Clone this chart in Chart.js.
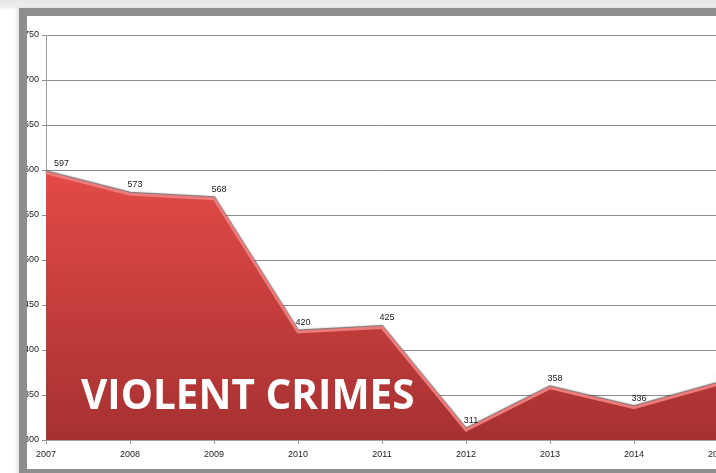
<!DOCTYPE html>
<html>
<head>
<meta charset="utf-8">
<script src="https://cdn.jsdelivr.net/npm/chart.js@4"></script>
<style>
  html, body { margin: 0; padding: 0; }
  body {
    width: 716px; height: 473px; overflow: hidden; position: relative;
    background: linear-gradient(#e6e6e6 0px, #f0f0f0 8px, #ffffff 9px);
  }
  #frame {
    position: absolute; left: 19px; top: 8px;
    width: 820px; height: 453px;
    border: 8px solid #8e8e8e;
    background: #fff; overflow: hidden;
    box-shadow: -2px 0 3px rgba(0,0,0,0.12);
  }
  #wrap { position: absolute; left: -8px; top: 0; width: 800px; height: 452px; }
</style>
</head>
<body>
<div id="frame"><div id="wrap"><canvas id="chart" width="800" height="452"></canvas></div></div>
<script>
const years = ["2007", "2008", "2009", "2010", "2011", "2012", "2013", "2014", "2015"];
const crimes = [597, 573, 568, 420, 425, 311, 358, 336, 362];
const yMin = 300;
const yMax = 750;
const yStep = 50;
const title = "VIOLENT CRIMES";

const labelPlugin = {
    id: "labels",
    beforeDatasetDraw(chart) {
        const ctx = chart.ctx;
        ctx.save();
        ctx.shadowColor = "rgba(70,70,70,0.8)";
        ctx.shadowBlur = 1.2;
        ctx.shadowOffsetY = -1;
    },
    afterDatasetDraw(chart) {
        chart.ctx.restore();
    },
    afterDatasetsDraw(chart) {
        const ctx = chart.ctx;
        const meta = chart.getDatasetMeta(0);
        ctx.save();
        ctx.font = "9px 'Liberation Sans', Arial, sans-serif";
        ctx.fillStyle = "#222";
        ctx.textBaseline = "bottom";
        meta.data.forEach((pt, i) => {
            ctx.textAlign = i === 0 ? "left" : "center";
            const dx = i === 0 ? 8 : 5;
            ctx.fillText(String(crimes[i]), pt.x + dx, pt.y - 5);
        });
        // title
        ctx.font = "bold 40.5px 'Open Sans', sans-serif";
        ctx.fillStyle = "#ffffff";
        ctx.textAlign = "left";
        ctx.textBaseline = "alphabetic";
        ctx.fillText(title, 62, 393);
        ctx.restore();
    }
};

new Chart(document.getElementById("chart"), {
    type: "line",
    data: {
        labels: years,
        datasets: [{
            data: crimes,
            fill: "start",
            tension: 0,
            pointRadius: 0,
            borderColor: "#ec7a7a",
            borderWidth: 3,
            backgroundColor: (c) => {
                const area = c.chart.chartArea;
                if (!area) return "#c03c3c";
                const g = c.chart.ctx.createLinearGradient(0, area.top + 140, 0, area.bottom);
                g.addColorStop(0, "#e24a47");
                g.addColorStop(1, "#a63131");
                return g;
            }
        }]
    },
    options: {
        responsive: false,
        animation: false,
        layout: { padding: { left: 0, top: 19, right: 101, bottom: 0 } },
        plugins: { legend: { display: false }, tooltip: { enabled: false } },
        scales: {
            x: {
                afterFit: (s) => { s.height = 28; },
                grid: { drawOnChartArea: false, drawTicks: true, tickLength: 4, color: "#999" },
                border: { color: "#a0a0a0" },
                ticks: { color: "#222", padding: 5, maxRotation: 0, autoSkip: false,
                         font: { family: "'Liberation Sans', Arial, sans-serif", size: 9 } }
            },
            y: {
                min: yMin, max: yMax,
                afterFit: (s) => { s.width = 27; },
                grid: { color: "#8c8c8c", tickLength: 4 },
                border: { color: "#a0a0a0" },
                ticks: { stepSize: yStep, color: "#222", padding: 3,
                         font: { family: "'Liberation Sans', Arial, sans-serif", size: 9 } }
            }
        }
    },
    plugins: [labelPlugin]
});
</script>
</body>
</html>
